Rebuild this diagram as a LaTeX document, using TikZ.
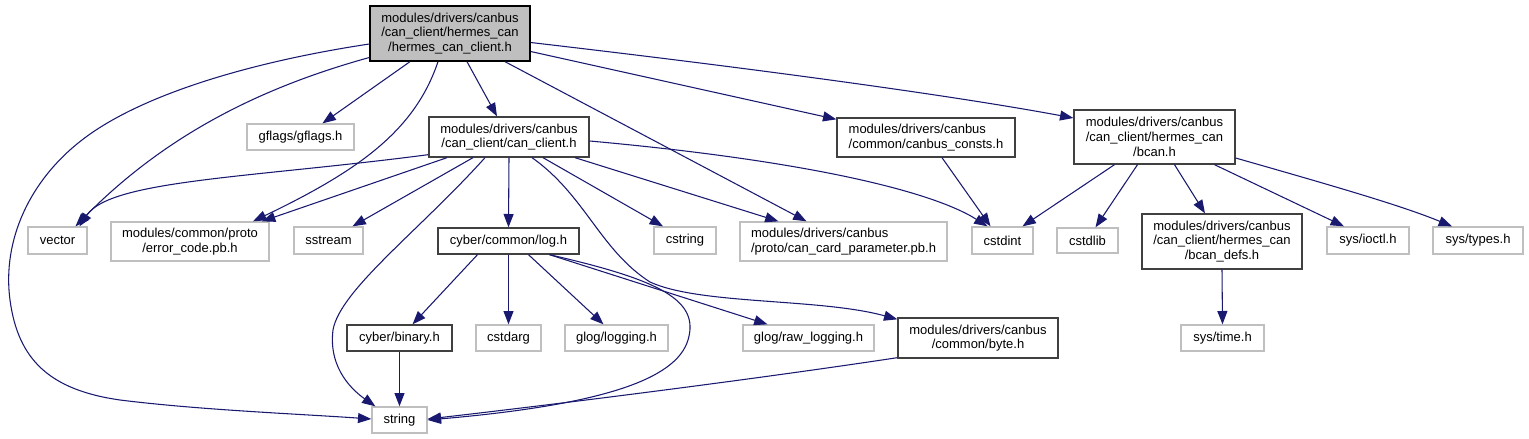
\documentclass[tikz,border=0pt]{standalone}
\usepackage{fontspec}
\setmainfont{Liberation Sans}
\usetikzlibrary{arrows.meta,calc}
\definecolor{edgeblue}{HTML}{191970}
\definecolor{extgray}{HTML}{BFBFBF}
\definecolor{rootfill}{HTML}{BFBFBF}
\definecolor{docborder}{HTML}{404040}
\tikzset{
  sz/.style 2 args={minimum width=#1*0.75pt, minimum height=#2*0.75pt},
  base/.style={rectangle, inner sep=0pt, line width=1pt, align=center,
    font=\fontsize{9.75}{11}\selectfont, text=black},
  ext/.style={base, draw=extgray, fill=white},
  doc/.style={base, draw=docborder, fill=white},
  rootnode/.style={base, draw=black, fill=rootfill},
  dep/.style={draw=edgeblue, line width=0.8pt,
    -{Triangle[length=10pt,width=7.5pt]}, color=edgeblue}
}
\begin{document}
\begin{tikzpicture}[x=0.75pt,y=-0.75pt]
\useasboundingbox (0,0) rectangle (1529,439);
% nodes
\node[rootnode, sz={160}{55}] (root) at (450,33.5) {modules/drivers/canbus\\/can\_client/hermes\_can\\/hermes\_can\_client.h};
\node[ext, sz={107}{26}] (gflags) at (300.5,137) {gflags/gflags.h};
\node[doc, sz={160}{40}] (cc) at (509,137) {modules/drivers/canbus\\/can\_client/can\_client.h};
\node[doc, sz={178}{39}, align=left] (consts) at (926,137.5) {modules/drivers/canbus\\/common/canbus\_consts.h};
\node[doc, sz={161}{54}] (bcan) at (1154.5,137) {modules/drivers/canbus\\/can\_client/hermes\_can\\/bcan.h};
\node[ext, sz={59}{27}] (vector) at (57.5,240.5) {vector};
\node[ext, sz={158}{39}] (err) at (190,241.5) {modules/common/proto\\/error\_code.pb.h};
\node[ext, sz={69}{27}] (sstream) at (328.5,240.5) {sstream};
\node[doc, sz={141}{26}] (log) at (508.5,241) {cyber/common/log.h};
\node[ext, sz={62}{27}] (cstring) at (685,240.5) {cstring};
\node[ext, sz={207}{39}, align=left] (ccp) at (843.5,241.5) {modules/drivers/canbus\\/proto/can\_card\_parameter.pb.h};
\node[ext, sz={61}{27}] (cstdint) at (1002.5,240.5) {cstdint};
\node[ext, sz={61}{25}] (cstdlib) at (1087.5,240.5) {cstdlib};
\node[doc, sz={160}{55}] (defs) at (1222,241.5) {modules/drivers/canbus\\/can\_client/hermes\_can\\/bcan\_defs.h};
\node[ext, sz={82}{27}] (ioctl) at (1368,240.5) {sys/ioctl.h};
\node[ext, sz={90}{27}] (types) at (1478,240.5) {sys/types.h};
\node[doc, sz={105}{26}] (binary) at (399.5,338) {cyber/binary.h};
\node[ext, sz={65}{26}] (cstdarg) at (508.5,338) {cstdarg};
\node[ext, sz={103}{26}] (glog) at (616.5,338) {glog/logging.h};
\node[ext, sz={131}{26}] (raw) at (808.5,338) {glog/raw\_logging.h};
\node[doc, sz={160}{40}] (byte) at (978,338) {modules/drivers/canbus\\/common/byte.h};
\node[ext, sz={83}{26}] (time) at (1222.5,338) {sys/time.h};
\node[ext, sz={55}{26}] (string) at (399.5,420) {string};
% edges from root
\draw[dep] ($(root.west)+(0,10.5)$) .. controls (250,62) and (140,95) .. (82,140)
  .. controls (30,180) and (2,240) .. (10,300)
  .. controls (18,360) and (50,390) .. (120,400)
  .. controls (200,410) and (300,414) .. ($(string.west)+(0,-1)$);
\draw[dep] ($(root.west)+(0,24)$) .. controls (270,85) and (170,130) .. ($(vector.north)+(18,0)$);
\draw[dep] ($(root.south)+(-40,0)$) -- ($(gflags.north)+(22,0)$);
\draw[dep] ($(root.south)+(-12,0)$) .. controls (415,130) and (360,170) .. ($(err.north)+(63,0)$);
\draw[dep] ($(root.south)+(17,0)$) -- ($(cc.north)+(-12,0)$);
\draw[dep] ($(root.south)+(55,0)$) -- ($(ccp.north)+(-37,0)$);
\draw[dep] ($(root.east)+(0,18)$) -- ($(consts.north west)+(0,2)$);
\draw[dep] ($(root.east)+(0,9)$) .. controls (750,68) and (950,95) .. ($(bcan.west)+(0,-19)$);
% edges from can_client
\draw[dep] ($(cc.south west)+(0,-3)$) .. controls (250,178) and (110,180) .. ($(vector.north)+(22,0)$);
\draw[dep] ($(cc.south)+(-62,0)$) -- ($(err.north)+(72,0)$);
\draw[dep] ($(cc.south)+(-36,0)$) -- ($(sstream.north)+(24,0)$);
\draw[dep] ($(cc.south)+(-24,0)$) .. controls (420,230) and (340,290) .. (333,330)
  .. controls (328,370) and (355,392) .. ($(string.north west)+(4,0)$);
\draw[dep] (cc.south) -- (log.north);
\draw[dep] ($(cc.south)+(34,0)$) -- ($(cstring.north)+(-22,0)$);
\draw[dep] ($(cc.south)+(23,0)$) .. controls (585,195) and (600,250) .. (650,282)
  .. controls (700,305) and (820,298) .. ($(byte.north west)+(0,2)$);
\draw[dep] ($(cc.south)+(66,0)$) -- ($(ccp.north)+(-65,0)$);
\draw[dep] ($(cc.east)+(0,4)$) .. controls (800,160) and (930,190) .. ($(cstdint.north)+(-15,0)$);
% canbus_consts
\draw[dep] ($(consts.south)+(16,0)$) -- ($(cstdint.north)+(-12,0)$);
% bcan
\draw[dep] ($(bcan.south)+(-40,0)$) -- ($(cstdint.north)+(20,0)$);
\draw[dep] ($(bcan.south)+(-17,0)$) -- ($(cstdlib.north)+(8,0)$);
\draw[dep] ($(bcan.south)+(20,0)$) -- ($(defs.north)+(-17,0)$);
\draw[dep] ($(bcan.south)+(60,0)$) -- ($(ioctl.north)+(-24,0)$);
\draw[dep] ($(bcan.east)+(0,21)$) .. controls (1330,185) and (1400,205) .. ($(types.north)+(-26,0)$);
% bcan_defs
\draw[dep] (defs.south) -- (time.north);
% log
\draw[dep] ($(log.south)+(-31,0)$) -- ($(binary.north)+(13,0)$);
\draw[dep] (log.south) -- (cstdarg.north);
\draw[dep] ($(log.south)+(20,0)$) -- ($(glog.north)+(-13,0)$);
\draw[dep] ($(log.south)+(41,0)$) .. controls (660,280) and (700,300) .. (688,340)
  .. controls (676,380) and (600,405) .. (string.east);
\draw[dep] ($(log.south)+(41,0)$) -- ($(raw.north)+(-41,0)$);
% byte
\draw[dep] ($(byte.south west)+(0,-1)$) .. controls (750,380) and (550,405) .. ($(string.east)+(0,-1)$);
% binary
\draw[dep] (binary.south) -- (string.north);
\end{tikzpicture}
\end{document}
